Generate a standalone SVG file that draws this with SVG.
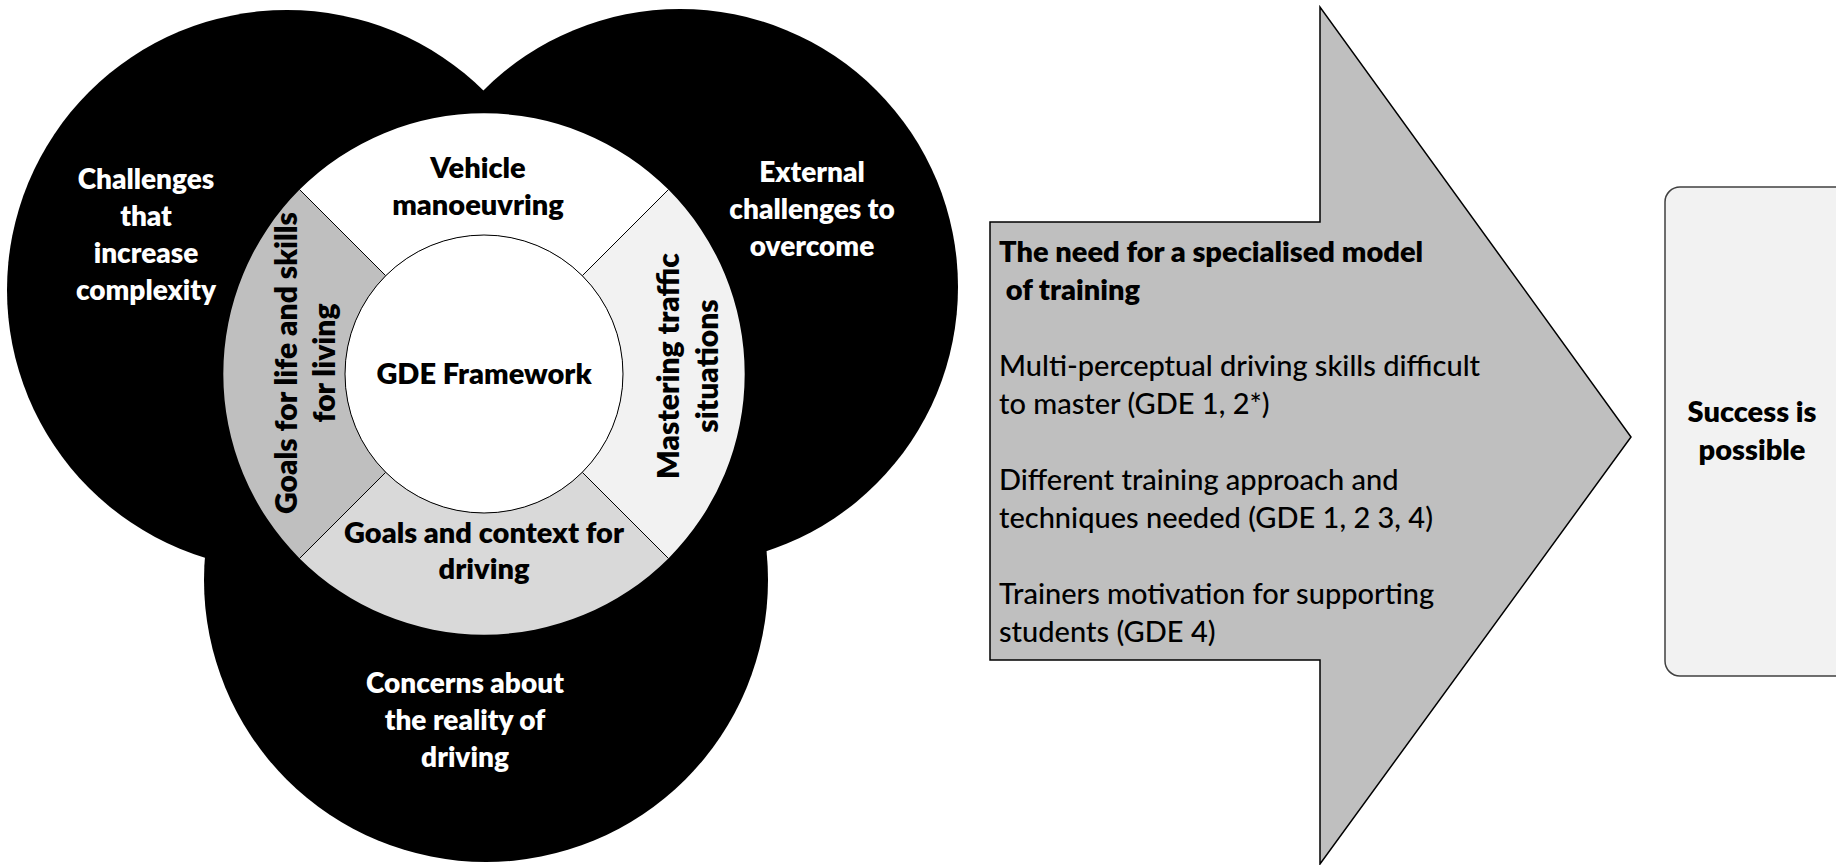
<svg xmlns="http://www.w3.org/2000/svg" width="1836" height="865" viewBox="0 0 1836 865">
<style>
.t{font-family:Lato,"Open Sans","Liberation Sans",sans-serif;}
.bw{font-weight:800;font-size:28px;fill:#ffffff;text-anchor:middle;}
.bk{font-weight:800;font-size:29px;fill:#000000;text-anchor:middle;}
.body{font-size:29px;font-weight:500;fill:#000000;}
.hd{font-size:29px;font-weight:800;fill:#000000;}
.sep{stroke:#000;stroke-width:1;fill:none;}
</style>
<rect x="0" y="0" width="1836" height="865" fill="#ffffff"/>
<g id="circles">
<circle cx="287" cy="290" r="280" fill="#000"/>
<circle cx="680" cy="287" r="278" fill="#000"/>
<circle cx="486" cy="580" r="282" fill="#000"/>
</g>
<g id="circle-labels" class="t">
<text class="t bw"><tspan x="146" y="189">Challenges</tspan><tspan x="146" y="226">that</tspan><tspan x="146" y="263">increase</tspan><tspan x="146" y="300">complexity</tspan></text>
<text class="t bw"><tspan x="812" y="182">External</tspan><tspan x="812" y="219">challenges to</tspan><tspan x="812" y="256">overcome</tspan></text>
<text class="t bw"><tspan x="465" y="693">Concerns about</tspan><tspan x="465" y="730">the reality of</tspan><tspan x="465" y="767">driving</tspan></text>
</g>
<g id="ring">
<path d="M299.6,189.6 A261,261 0 0 1 668.4,189.6 L582.3,275.7 A139,139 0 0 0 385.7,275.7 Z" fill="#ffffff"/>
<path d="M668.4,189.6 A261,261 0 0 1 668.4,558.4 L582.3,472.3 A139,139 0 0 0 582.3,275.7 Z" fill="#f2f2f2"/>
<path d="M668.4,558.4 A261,261 0 0 1 299.6,558.4 L385.7,472.3 A139,139 0 0 0 582.3,472.3 Z" fill="#d9d9d9"/>
<path d="M299.6,558.4 A261,261 0 0 1 299.6,189.6 L385.7,275.7 A139,139 0 0 0 385.7,472.3 Z" fill="#bfbfbf"/>
<line class="sep" x1="299.6" y1="189.6" x2="385.7" y2="275.7"/>
<line class="sep" x1="668.4" y1="189.6" x2="582.3" y2="275.7"/>
<line class="sep" x1="668.4" y1="558.4" x2="582.3" y2="472.3"/>
<line class="sep" x1="299.6" y1="558.4" x2="385.7" y2="472.3"/>
</g>
<g id="center">
<circle cx="484" cy="374" r="139" fill="#ffffff" stroke="#000" stroke-width="1"/>
<text class="t bk" x="484" y="384">GDE Framework</text>
</g>
<g id="seg-top"><text class="t bk"><tspan x="478" y="178">Vehicle</tspan><tspan x="478" y="215">manoeuvring</tspan></text></g>
<g id="seg-bottom"><text class="t bk"><tspan x="484" y="543">Goals and context for</tspan><tspan x="484" y="579">driving</tspan></text></g>
<g id="seg-left">
<text class="t bk" transform="translate(297,363) rotate(-90)" x="0" y="0" style="font-size:30px">Goals for life and skills</text>
<text class="t bk" transform="translate(335,363) rotate(-90)" x="0" y="0" style="font-size:30px">for living</text>
</g>
<g id="seg-right">
<text class="t bk" transform="translate(679,366) rotate(-90)" x="0" y="0" style="font-size:30px">Mastering traffic</text>
<text class="t bk" transform="translate(718,366) rotate(-90)" x="0" y="0" style="font-size:30px">situations</text>
</g>
<g id="arrow">
<polygon points="990,222 1320,222 1320,7 1631,437 1320,864 1320,660 990,660" fill="#bfbfbf" stroke="#000" stroke-width="1.5"/>
<text class="t hd"><tspan x="999" y="262">The need for a specialised model</tspan><tspan x="999" y="300"> of training</tspan></text>
<text class="t body"><tspan x="999" y="376">Multi-perceptual driving skills difficult</tspan><tspan x="999" y="414">to master (GDE 1, 2*)</tspan></text>
<text class="t body"><tspan x="999" y="490">Different training approach and</tspan><tspan x="999" y="528">techniques needed (GDE 1, 2 3, 4)</tspan></text>
<text class="t body"><tspan x="999" y="604">Trainers motivation for supporting</tspan><tspan x="999" y="642">students (GDE 4)</tspan></text>
</g>
<g id="success">
<rect x="1665" y="187" width="185" height="489" rx="15" ry="15" fill="#f2f2f2" stroke="#404040" stroke-width="1.5"/>
<text class="t bk"><tspan x="1752" y="422">Success is</tspan><tspan x="1752" y="460">possible</tspan></text>
</g>
</svg>
